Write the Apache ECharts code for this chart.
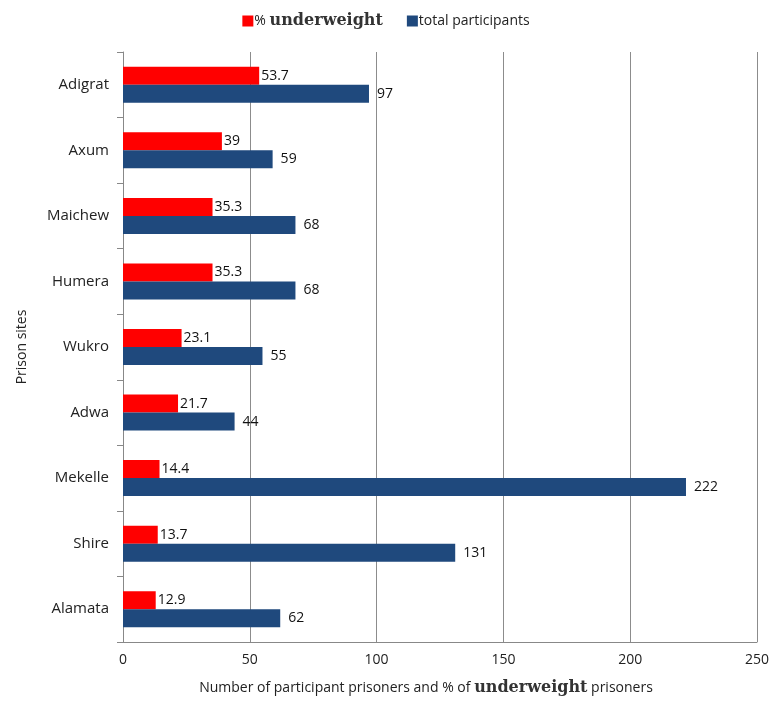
<!DOCTYPE html>
<html><head><meta charset="utf-8">
<script src="https://cdn.jsdelivr.net/npm/echarts@6/dist/echarts.min.js"></script>
<style>html,body{margin:0;padding:0;background:#fff}#c{width:772px;height:701px}</style>
</head><body><div id="c"></div>
<script>
const categories = ["Adigrat","Axum","Maichew","Humera","Wukro","Adwa","Mekelle","Shire","Alamata"];
const underweightPct = [53.7,39,35.3,35.3,23.1,21.7,14.4,13.7,12.9];
const totalParticipants = [97,59,68,68,55,44,222,131,62];
const xTicks = [0,50,100,150,200,250];

const font = "'Open Sans', sans-serif";
const serif = "'DejaVu Serif', 'Liberation Serif', serif";
const chart = echarts.init(document.getElementById('c'));
chart.setOption({
  animation:false,
  legend:{
    top:8, left:'center', itemWidth:11, itemHeight:11, itemGap:24, icon:'rect',
    data:['% underweight','total participants'],
    formatter:function(n){ return n==='% underweight' ? '{a|% }{b|underweight}' : '{a|total participants}'; },
    textStyle:{ color:'#222', fontFamily:font, fontSize:14, padding:[0,0,0,-4],
      rich:{ a:{fontFamily:font,fontSize:14,color:'#222'}, b:{fontFamily:serif,fontSize:16,fontWeight:'bold',color:'#333'} } }
  },
  grid:{ left:123, right:14, top:52, bottom:58, containLabel:false },
  xAxis:{
    type:'value', min:xTicks[0], max:xTicks[xTicks.length-1], interval:50,
    axisLine:{show:true, lineStyle:{color:'#888'}},
    axisTick:{show:false},
    splitLine:{show:true, lineStyle:{color:'#8c8c8c', width:1}},
    axisLabel:{color:'#222', fontFamily:font, fontSize:14, margin:11},
    name:'{a|Number of participant prisoners and % of }{b|underweight}{a| prisoners}',
    nameLocation:'middle', nameGap:38,
    nameTextStyle:{ padding:[0,28,0,0], rich:{ a:{fontFamily:font,fontSize:14,color:'#222'}, b:{fontFamily:serif,fontSize:16,fontWeight:'bold',color:'#333'} } }
  },
  yAxis:{
    type:'category', data:categories, inverse:true,
    axisLine:{show:true, lineStyle:{color:'#888'}},
    axisTick:{show:true, length:6, lineStyle:{color:'#888'}},
    axisLabel:{color:'#222', fontFamily:font, fontSize:15, margin:14},
    name:'Prison sites', nameLocation:'middle', nameGap:94, nameRotate:90,
    nameTextStyle:{fontFamily:font, fontSize:14, color:'#222'}
  },
  series:[
    { name:'% underweight', type:'bar', data:underweightPct, barWidth:18, barGap:'0%',
      itemStyle:{color:'#ff0000'},
      label:{show:true, position:'right', distance:2, color:'#111', fontFamily:font, fontSize:14} },
    { name:'total participants', type:'bar', data:totalParticipants, barWidth:18,
      itemStyle:{color:'#1f497d'},
      label:{show:true, position:'right', distance:8, color:'#111', fontFamily:font, fontSize:14} }
  ]
});
</script></body></html>
